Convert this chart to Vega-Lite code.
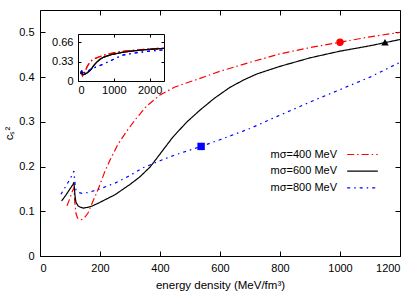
{
  "$schema": "https://vega.github.io/schema/vega-lite/v6.json",
  "width": 360,
  "height": 246,
  "autosize": {"type": "none"},
  "padding": {"left": 40, "top": 10, "right": 15, "bottom": 35},
  "config": {
    "view": {"stroke": "black", "strokeWidth": 1},
    "font": "Liberation Sans",
    "axis": {"grid": false, "labelFont": "Liberation Sans", "labelFontSize": 11, "labelColor": "#000", "titleFont": "Liberation Sans", "titleFontSize": 11.5, "titleFontWeight": "normal", "titleColor": "#000", "tickColor": "#000", "domainColor": "#000"}
  },
  "datasets": {
    "curves": [
      {"m": "mσ=400 MeV", "e": 90, "cs": 0.112},
      {"m": "mσ=400 MeV", "e": 100, "cs": 0.13},
      {"m": "mσ=400 MeV", "e": 108, "cs": 0.145},
      {"m": "mσ=400 MeV", "e": 113, "cs": 0.152},
      {"m": "mσ=400 MeV", "e": 116, "cs": 0.12},
      {"m": "mσ=400 MeV", "e": 120, "cs": 0.095},
      {"m": "mσ=400 MeV", "e": 125, "cs": 0.085},
      {"m": "mσ=400 MeV", "e": 132, "cs": 0.081},
      {"m": "mσ=400 MeV", "e": 140, "cs": 0.082},
      {"m": "mσ=400 MeV", "e": 150, "cs": 0.087},
      {"m": "mσ=400 MeV", "e": 160, "cs": 0.096},
      {"m": "mσ=400 MeV", "e": 175, "cs": 0.12},
      {"m": "mσ=400 MeV", "e": 190, "cs": 0.143},
      {"m": "mσ=400 MeV", "e": 200, "cs": 0.16},
      {"m": "mσ=400 MeV", "e": 215, "cs": 0.187},
      {"m": "mσ=400 MeV", "e": 233, "cs": 0.214},
      {"m": "mσ=400 MeV", "e": 260, "cs": 0.25},
      {"m": "mσ=400 MeV", "e": 290, "cs": 0.28},
      {"m": "mσ=400 MeV", "e": 320, "cs": 0.307},
      {"m": "mσ=400 MeV", "e": 355, "cs": 0.335},
      {"m": "mσ=400 MeV", "e": 400, "cs": 0.36},
      {"m": "mσ=400 MeV", "e": 450, "cs": 0.378},
      {"m": "mσ=400 MeV", "e": 520, "cs": 0.394},
      {"m": "mσ=400 MeV", "e": 600, "cs": 0.413},
      {"m": "mσ=400 MeV", "e": 700, "cs": 0.433},
      {"m": "mσ=400 MeV", "e": 800, "cs": 0.452},
      {"m": "mσ=400 MeV", "e": 900, "cs": 0.466},
      {"m": "mσ=400 MeV", "e": 1000, "cs": 0.478},
      {"m": "mσ=400 MeV", "e": 1100, "cs": 0.49},
      {"m": "mσ=400 MeV", "e": 1200, "cs": 0.5},
      {"m": "mσ=400 MeV", "e": 1500, "cs": 0.52},
      {"m": "mσ=400 MeV", "e": 2000, "cs": 0.545},
      {"m": "mσ=400 MeV", "e": 2400, "cs": 0.56},
      {"m": "mσ=600 MeV", "e": 72, "cs": 0.123},
      {"m": "mσ=600 MeV", "e": 85, "cs": 0.135},
      {"m": "mσ=600 MeV", "e": 100, "cs": 0.15},
      {"m": "mσ=600 MeV", "e": 110, "cs": 0.16},
      {"m": "mσ=600 MeV", "e": 113, "cs": 0.165},
      {"m": "mσ=600 MeV", "e": 115, "cs": 0.15},
      {"m": "mσ=600 MeV", "e": 117, "cs": 0.132},
      {"m": "mσ=600 MeV", "e": 120, "cs": 0.12},
      {"m": "mσ=600 MeV", "e": 127, "cs": 0.112},
      {"m": "mσ=600 MeV", "e": 135, "cs": 0.109},
      {"m": "mσ=600 MeV", "e": 145, "cs": 0.107},
      {"m": "mσ=600 MeV", "e": 160, "cs": 0.109},
      {"m": "mσ=600 MeV", "e": 175, "cs": 0.112},
      {"m": "mσ=600 MeV", "e": 200, "cs": 0.12},
      {"m": "mσ=600 MeV", "e": 250, "cs": 0.137},
      {"m": "mσ=600 MeV", "e": 300, "cs": 0.16},
      {"m": "mσ=600 MeV", "e": 333, "cs": 0.177},
      {"m": "mσ=600 MeV", "e": 367, "cs": 0.199},
      {"m": "mσ=600 MeV", "e": 400, "cs": 0.228},
      {"m": "mσ=600 MeV", "e": 443, "cs": 0.266},
      {"m": "mσ=600 MeV", "e": 490, "cs": 0.3},
      {"m": "mσ=600 MeV", "e": 533, "cs": 0.326},
      {"m": "mσ=600 MeV", "e": 580, "cs": 0.352},
      {"m": "mσ=600 MeV", "e": 633, "cs": 0.377},
      {"m": "mσ=600 MeV", "e": 680, "cs": 0.394},
      {"m": "mσ=600 MeV", "e": 723, "cs": 0.407},
      {"m": "mσ=600 MeV", "e": 800, "cs": 0.424},
      {"m": "mσ=600 MeV", "e": 900, "cs": 0.443},
      {"m": "mσ=600 MeV", "e": 1000, "cs": 0.458},
      {"m": "mσ=600 MeV", "e": 1100, "cs": 0.47},
      {"m": "mσ=600 MeV", "e": 1150, "cs": 0.477},
      {"m": "mσ=600 MeV", "e": 1200, "cs": 0.484},
      {"m": "mσ=600 MeV", "e": 1500, "cs": 0.51},
      {"m": "mσ=600 MeV", "e": 2000, "cs": 0.54},
      {"m": "mσ=600 MeV", "e": 2400, "cs": 0.555},
      {"m": "mσ=800 MeV", "e": 70, "cs": 0.138},
      {"m": "mσ=800 MeV", "e": 85, "cs": 0.155},
      {"m": "mσ=800 MeV", "e": 100, "cs": 0.172},
      {"m": "mσ=800 MeV", "e": 110, "cs": 0.185},
      {"m": "mσ=800 MeV", "e": 113, "cs": 0.19},
      {"m": "mσ=800 MeV", "e": 116, "cs": 0.165},
      {"m": "mσ=800 MeV", "e": 120, "cs": 0.148},
      {"m": "mσ=800 MeV", "e": 128, "cs": 0.142},
      {"m": "mσ=800 MeV", "e": 140, "cs": 0.14},
      {"m": "mσ=800 MeV", "e": 160, "cs": 0.142},
      {"m": "mσ=800 MeV", "e": 200, "cs": 0.15},
      {"m": "mσ=800 MeV", "e": 250, "cs": 0.163},
      {"m": "mσ=800 MeV", "e": 300, "cs": 0.18},
      {"m": "mσ=800 MeV", "e": 343, "cs": 0.197},
      {"m": "mσ=800 MeV", "e": 400, "cs": 0.213},
      {"m": "mσ=800 MeV", "e": 450, "cs": 0.226},
      {"m": "mσ=800 MeV", "e": 537, "cs": 0.245},
      {"m": "mσ=800 MeV", "e": 600, "cs": 0.26},
      {"m": "mσ=800 MeV", "e": 700, "cs": 0.285},
      {"m": "mσ=800 MeV", "e": 800, "cs": 0.315},
      {"m": "mσ=800 MeV", "e": 910, "cs": 0.347},
      {"m": "mσ=800 MeV", "e": 1000, "cs": 0.372},
      {"m": "mσ=800 MeV", "e": 1100, "cs": 0.4},
      {"m": "mσ=800 MeV", "e": 1200, "cs": 0.433},
      {"m": "mσ=800 MeV", "e": 1500, "cs": 0.47},
      {"m": "mσ=800 MeV", "e": 2000, "cs": 0.51},
      {"m": "mσ=800 MeV", "e": 2400, "cs": 0.53}
    ],
    "markers": [
      {"s": "400", "e": 1000, "cs": 0.478},
      {"s": "600", "e": 1150, "cs": 0.478},
      {"s": "800", "e": 537, "cs": 0.245}
    ]
  },
  "layer": [
    {
      "layer": [
        {
          "data": {"name": "curves"},
          "mark": {"type": "line", "clip": true, "strokeWidth": 1.2},
          "encoding": {
            "x": {"field": "e", "type": "quantitative", "scale": {"domain": [0, 1200]},
              "axis": {"orient": "bottom", "values": [0, 200, 400, 600, 800, 1000, 1200], "tickSize": -5, "labelPadding": 11, "domain": false, "format": "d", "title": "energy density (MeV/fm³)", "titlePadding": 6}},
            "y": {"field": "cs", "type": "quantitative", "scale": {"domain": [0, 0.55]},
              "axis": {"orient": "left", "values": [0, 0.1, 0.2, 0.3, 0.4, 0.5], "tickSize": -5, "labelPadding": 11, "domain": false, "format": ".1~f", "title": "cₛ²", "titlePadding": 4}},
            "color": {"field": "m", "type": "nominal",
              "scale": {"domain": ["mσ=400 MeV", "mσ=600 MeV", "mσ=800 MeV"], "range": ["#ff0000", "#000000", "#0000ff"]},
              "legend": {"orient": "none", "legendX": 313, "legendY": 135, "symbolType": "M-1.8,0H1.8", "symbolSize": 289, "symbolStrokeWidth": 1.2, "symbolOpacity": 1, "labelAlign": "right", "labelOffset": -35, "labelFontSize": 11, "labelFont": "Liberation Sans", "labelColor": "#000", "rowPadding": 1.7, "title": null, "padding": 0}},
            "strokeDash": {"field": "m", "type": "nominal",
              "scale": {"domain": ["mσ=400 MeV", "mσ=600 MeV", "mσ=800 MeV"], "range": [[7, 3, 1.5, 3], [1, 0], [3, 4, 1.5, 4]]},
              "legend": {"orient": "none", "legendX": 313, "legendY": 135, "symbolType": "M-1.8,0H1.8", "symbolSize": 289, "symbolStrokeWidth": 1.2, "symbolOpacity": 1, "labelAlign": "right", "labelOffset": -35, "labelFontSize": 11, "labelFont": "Liberation Sans", "labelColor": "#000", "rowPadding": 1.7, "title": null, "padding": 0}}
          }
        },
        {
          "data": {"name": "markers"},
          "mark": {"type": "point", "filled": true, "opacity": 1, "size": 55, "strokeWidth": 0},
          "encoding": {
            "x": {"field": "e", "type": "quantitative",
              "axis": {"orient": "top", "values": [0, 200, 400, 600, 800, 1000, 1200], "tickSize": -5, "labels": false, "domain": false, "title": null}},
            "y": {"field": "cs", "type": "quantitative",
              "axis": {"orient": "right", "values": [0, 0.1, 0.2, 0.3, 0.4, 0.5], "tickSize": -5, "labels": false, "domain": false, "title": null}},
            "fill": {"field": "s", "type": "nominal", "scale": {"domain": ["400", "600", "800"], "range": ["#ff0000", "#000000", "#0000ff"]}, "legend": null},
            "shape": {"field": "s", "type": "nominal", "scale": {"domain": ["400", "600", "800"], "range": ["circle", "triangle-up", "square"]}, "legend": null}
          }
        }
      ],
      "resolve": {"axis": {"x": "independent", "y": "independent"}}
    },
    {
      "layer": [
        {
          "data": {"name": "curves"},
          "mark": {"type": "line", "strokeWidth": 1.2},
          "encoding": {
            "x": {"field": "e", "type": "quantitative", "scale": {"domain": [0, 2400], "range": [38, 124]},
              "axis": {"orient": "bottom", "offset": -175, "values": [0, 1000, 2000], "tickSize": -3, "labelPadding": 6, "domain": true, "format": "d", "title": null}},
            "y": {"field": "cs", "type": "quantitative", "scale": {"domain": [0, 0.8], "range": [71, 24]},
              "axis": {"orient": "left", "offset": -38, "values": [0, 0.33, 0.66], "tickSize": -3, "labelPadding": 8, "domain": true, "format": ".2~f", "title": null}},
            "color": {"field": "m", "type": "nominal", "legend": null},
            "strokeDash": {"field": "m", "type": "nominal", "legend": null}
          }
        },
        {
          "data": {"name": "curves"},
          "mark": {"type": "line", "strokeWidth": 1.2},
          "encoding": {
            "x": {"field": "e", "type": "quantitative",
              "axis": {"orient": "top", "offset": -24, "values": [0, 1000, 2000], "tickSize": -3, "labels": false, "domain": true, "title": null}},
            "y": {"field": "cs", "type": "quantitative",
              "axis": {"orient": "right", "offset": -236, "values": [0, 0.33, 0.66], "tickSize": -3, "labels": false, "domain": true, "title": null}},
            "color": {"field": "m", "type": "nominal", "legend": null},
            "strokeDash": {"field": "m", "type": "nominal", "legend": null}
          }
        }
      ],
      "resolve": {"axis": {"x": "independent", "y": "independent"}}
    }
  ],
  "resolve": {"scale": {"x": "independent", "y": "independent"}}
}
